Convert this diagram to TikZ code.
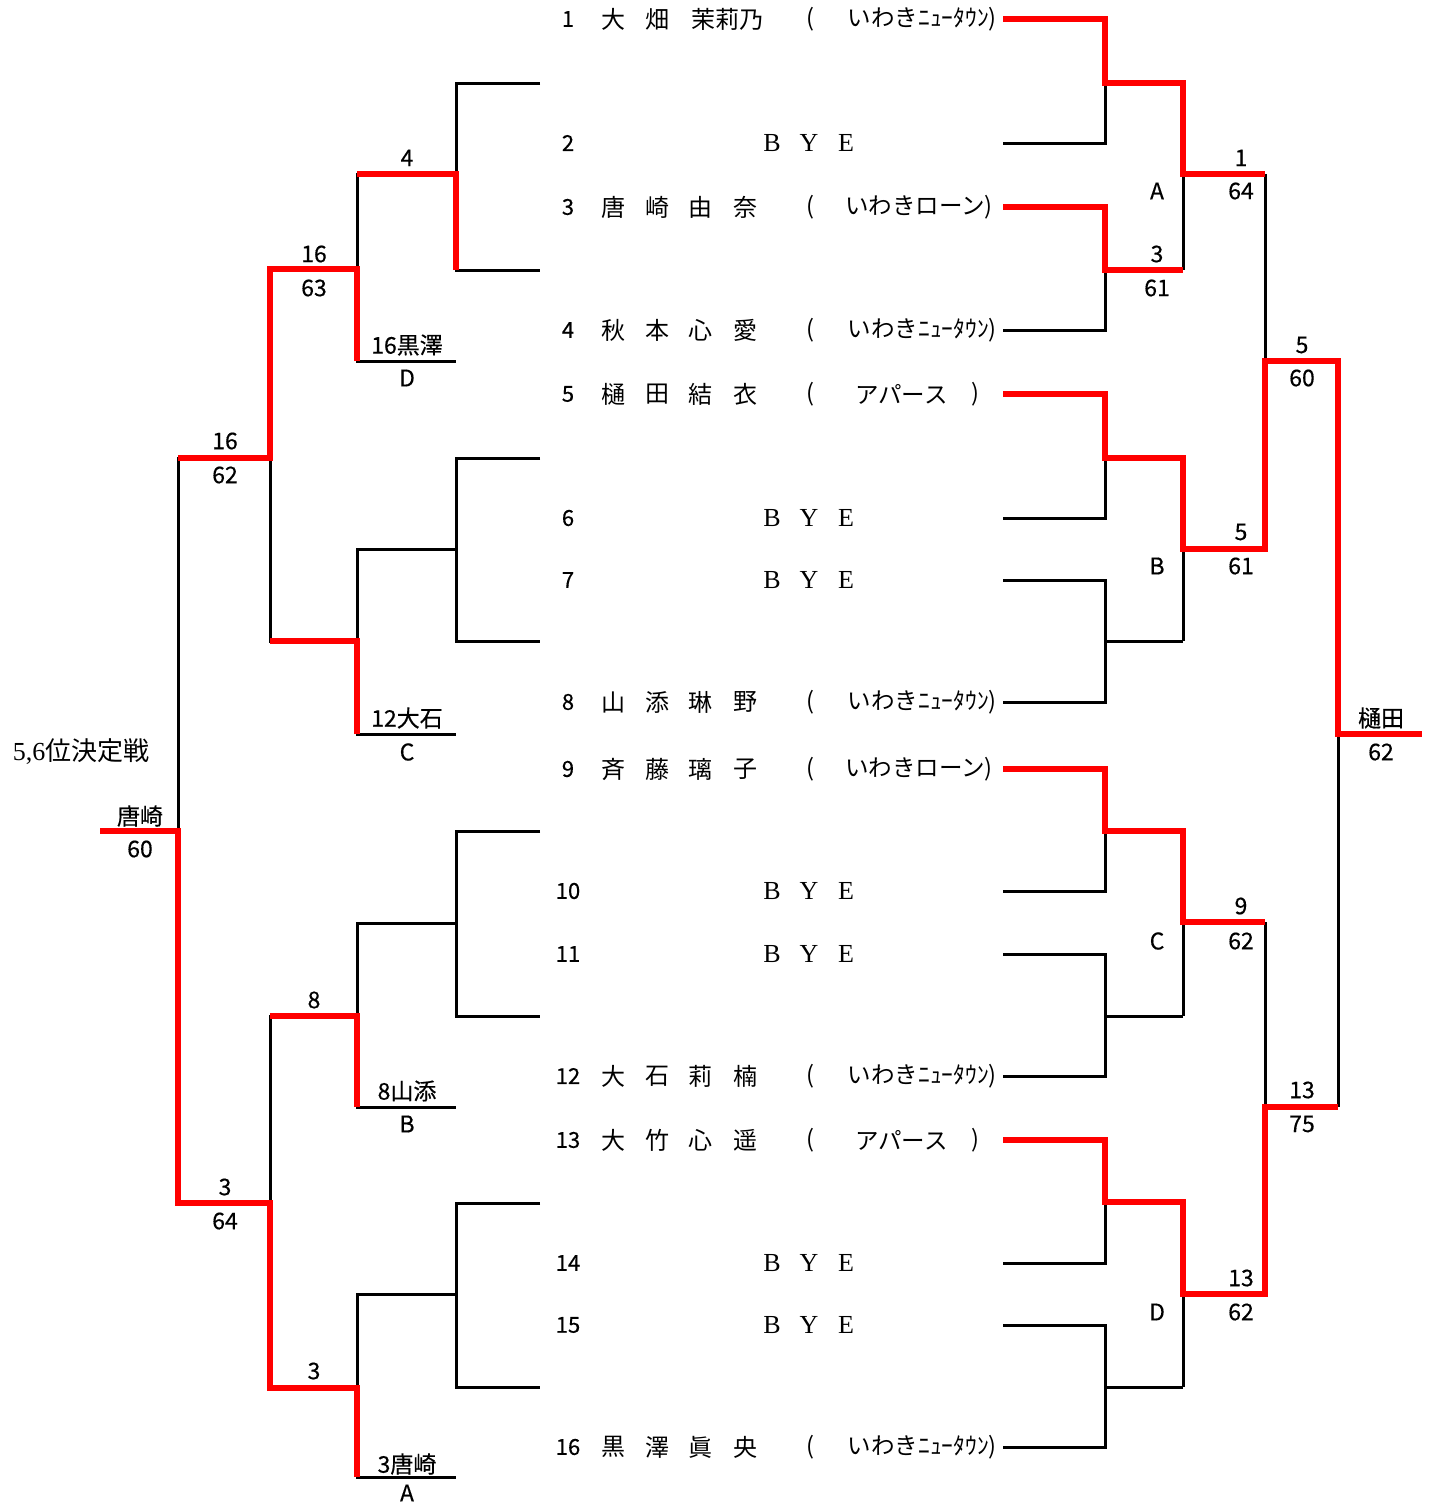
\documentclass[tikz,border=0pt]{standalone}
\usepackage{fontspec}
\setmainfont{Liberation Serif}
\newfontfamily\jp{Noto Sans CJK JP}
\newfontfamily\jpl[FakeBold=0.4]{Noto Sans CJK JP}
\newcommand\fourname[6]{%
  \node[nm] (#1a) at (613,#2) {#3};
  \node[nm] (#1b) at (657,#2) {#4};
  \node[nm] (#1c) at (700,#2) {#5};
  \node[nm] (#1d) at (745,#2) {#6};}
\newcommand\clubnt[2]{%
  \node[club] (#1o) at (810,#2) {(};
  \node[club,anchor=east] (#1c) at (997,#2) {いわきﾆｭｰﾀｳﾝ)};}
\newcommand\clubln[2]{%
  \node[club] (#1o) at (810,#2) {(};
  \node[club,anchor=east] (#1c) at (993,#2) {いわきローン)};}
\newcommand\clubap[2]{%
  \node[club] (#1o) at (810,#2) {(};
  \node[club,anchor=west] (#1c) at (855,#2) {アパース};
  \node[club] (#1e) at (975,#2) {)};}
\newcommand\byerow[2]{%
  \node[bye] (#1b) at (772,#2) {B};
  \node[bye] (#1y) at (809,#2) {Y};
  \node[bye] (#1e) at (846,#2) {E};}
\begin{document}
\begin{tikzpicture}[x=1pt,y=-1pt,
  blk/.style={line width=3pt,black,line join=miter},
  win/.style={line width=6pt,red,line join=miter},
  num/.style={font=\jpl\fontsize{22}{22}\selectfont,inner sep=0pt},
  nm/.style={font=\jp\fontsize{24}{24}\selectfont,inner sep=0pt},
  club/.style={font=\jp\fontsize{23.5}{24}\selectfont,inner sep=0pt},
  bye/.style={font=\fontsize{26}{26}\selectfont,inner sep=0pt},
  lbl/.style={font=\jpl\fontsize{23}{23}\selectfont,inner sep=0pt}]
\useasboundingbox (0,0) rectangle (1429,1504);

% players
\foreach \i/\y in {1/19,2/143,3/207,4/330,5/394,6/518,7/580,8/702,9/769,10/891,11/954,12/1076,13/1140,14/1263,15/1325,16/1447}{
  \coordinate (P\i) at (1003,\y);
  \node[num] (N\i) at (568,\y) {\i};
}
\node[nm] (r1a) at (613,19) {大};
\node[nm] (r1b) at (657,19) {畑};
\node[nm] (r1c) at (727,19) {茉莉乃};
\clubnt{c1}{19}
\byerow{b2}{143}
\fourname{r3}{207}{唐}{崎}{由}{奈}
\clubln{c3}{207}
\fourname{r4}{330}{秋}{本}{心}{愛}
\clubnt{c4}{330}
\fourname{r5}{394}{樋}{田}{結}{衣}
\clubap{c5}{394}
\byerow{b6}{518}
\byerow{b7}{580}
\fourname{r8}{702}{山}{添}{琳}{野}
\clubnt{c8}{702}
\fourname{r9}{769}{斉}{藤}{璃}{子}
\clubln{c9}{769}
\byerow{b10}{891}
\byerow{b11}{954}
\fourname{r12}{1076}{大}{石}{莉}{楠}
\clubnt{c12}{1076}
\fourname{r13}{1140}{大}{竹}{心}{遥}
\clubap{c13}{1140}
\byerow{b14}{1263}
\byerow{b15}{1325}
\fourname{r16}{1447}{黒}{澤}{眞}{央}
\clubnt{c16}{1447}

% right bracket, black
\foreach \a/\b/\m in {1/2/83,3/4/270,5/6/458,7/8/641,9/10/831,11/12/1016,13/14/1202,15/16/1387}{
  \draw[blk] (P\a) -| (1105,\m) |- (P\b);
  \draw[blk] (1105,\m) -- (1183,\m);
}
\draw[blk] (1183,83) -- (1183,270);
\draw[blk] (1183,458) -- (1183,641);
\draw[blk] (1183,831) -- (1183,1016);
\draw[blk] (1183,1202) -- (1183,1387);
\draw[blk] (1183,174) -- (1265,174);
\draw[blk] (1183,549) -- (1265,549);
\draw[blk] (1183,922) -- (1265,922);
\draw[blk] (1183,1294) -- (1265,1294);
\draw[blk] (1265,174) -- (1265,549);
\draw[blk] (1265,922) -- (1265,1294);
\draw[blk] (1265,361) -- (1338,361);
\draw[blk] (1265,1107) -- (1338,1107);
\draw[blk] (1338,361) -- (1338,1107);
\draw[blk] (1338,734) -- (1422,734);

% right bracket, winners
\draw[win] (P1) -| (1105,83) -| (1183,174) -- (1265,174);
\draw[win] (P3) -| (1105,270) -- (1183,270);
\draw[win] (P5) -| (1105,458) -| (1183,549) -| (1265,361) -| (1338,734) -- (1422,734);
\draw[win] (P9) -| (1105,831) -| (1183,922) -- (1265,922);
\draw[win] (P13) -| (1105,1202) -| (1183,1294) -| (1265,1107) -- (1338,1107);

% left bracket, black
\draw[blk] (540,83) -| (456,270) -- (540,270);
\draw[blk] (456,174) -| (357,361) -- (456,361);
\draw[blk] (357,269) -| (270,641) -- (357,641);
\draw[blk] (540,458) -| (456,641) -- (540,641);
\draw[blk] (456,549) -| (357,734) -- (456,734);
\draw[blk] (270,458) -| (178,1203) -- (270,1203);
\draw[blk] (178,831) -- (100,831);
\draw[blk] (540,831) -| (456,1016) -- (540,1016);
\draw[blk] (456,923) -| (357,1107) -- (456,1107);
\draw[blk] (357,1016) -| (270,1388) -- (357,1388);
\draw[blk] (540,1203) -| (456,1387) -- (540,1387);
\draw[blk] (456,1294) -| (357,1477) -- (456,1477);

% left bracket, winners
\draw[win] (456,270) -- (456,174) -- (357,174);
\draw[win] (357,361) -- (357,269) -- (270,269) -- (270,458) -- (178,458);
\draw[win] (357,734) -- (357,641) -- (270,641);
\draw[win] (357,1107) -- (357,1016) -- (270,1016);
\draw[win] (357,1477) -- (357,1388) -- (270,1388) -- (270,1203) -- (178,1203) -- (178,831) -- (100,831);

% right labels
\node[lbl] (lA) at (1157,191) {A};
\node[lbl] (l3a) at (1157,254) {3};
\node[lbl] (l3b) at (1157,288) {61};
\node[lbl] (l1a) at (1241,158) {1};
\node[lbl] (l1b) at (1241,191) {64};
\node[lbl] (l5a) at (1302,345) {5};
\node[lbl] (l5b) at (1302,378) {60};
\node[lbl] (lB) at (1157,566) {B};
\node[lbl] (l5c) at (1241,532) {5};
\node[lbl] (l5d) at (1241,566) {61};
\node[lbl] (lfa) at (1381,718) {樋田};
\node[lbl] (lfb) at (1381,752) {62};
\node[lbl] (lC) at (1157,941) {C};
\node[lbl] (l9a) at (1241,906) {9};
\node[lbl] (l9b) at (1241,941) {62};
\node[lbl] (l13a) at (1302,1090) {13};
\node[lbl] (l13b) at (1302,1124) {75};
\node[lbl] (lD) at (1157,1312) {D};
\node[lbl] (l13c) at (1241,1278) {13};
\node[lbl] (l13d) at (1241,1312) {62};

% left labels
\node[lbl] (k4) at (407,158) {4};
\node[lbl] (k16a) at (314,254) {16};
\node[lbl] (k16b) at (314,288) {63};
\node[lbl] (kD1) at (407,345) {16黒澤};
\node[lbl] (kD2) at (407,378) {D};
\node[lbl] (k16c) at (225,441) {16};
\node[lbl] (k16d) at (225,475) {62};
\node[lbl] (kC1) at (407,718) {12大石};
\node[lbl] (kC2) at (407,752) {C};
\node[lbl] (kw1) at (140,816) {唐崎};
\node[lbl] (kw2) at (140,849) {60};
\node[lbl] (k8) at (314,1000) {8};
\node[lbl] (kB1) at (407,1091) {8山添};
\node[lbl] (kB2) at (407,1124) {B};
\node[lbl] (k3a) at (225,1187) {3};
\node[lbl] (k3b) at (225,1221) {64};
\node[lbl] (k3c) at (314,1371) {3};
\node[lbl] (kA1) at (407,1464) {3唐崎};
\node[lbl] (kA2) at (407,1493) {A};

\node[inner sep=0pt,font=\fontsize{26}{26}\selectfont] (title) at (81,752) {5,6{\jp 位決定戦}};
\end{tikzpicture}
\end{document}
